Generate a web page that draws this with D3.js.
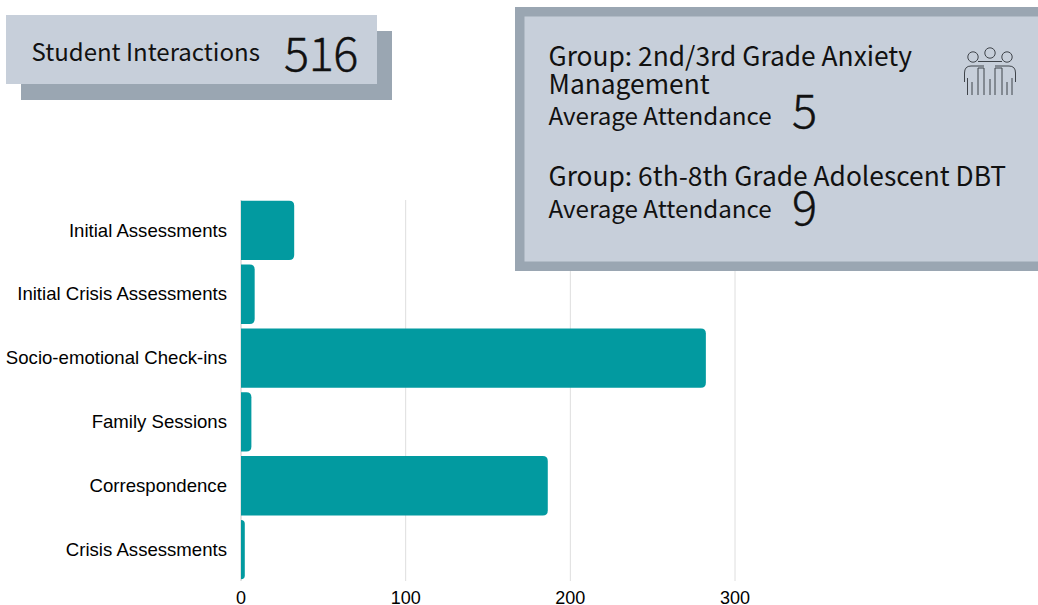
<!DOCTYPE html>
<html>
<head>
<meta charset="utf-8">
<script src="https://cdnjs.cloudflare.com/ajax/libs/d3/7.8.5/d3.min.js"></script>
<style>
  html, body { margin: 0; padding: 0; background: #fff; overflow: hidden; }
  .cat-label { font-family: "Liberation Sans", Arial, sans-serif; font-size: 18.6px; fill: #000; }
  .tick-label { font-family: "Liberation Sans", Arial, sans-serif; font-size: 18px; fill: #000; }
  .card-text { font-family: "Noto Sans CJK JP", sans-serif; fill: #111; }
  .big-num { font-family: "Noto Sans CJK JP", sans-serif; font-weight: 300; fill: #111; stroke: #111; stroke-width: 0.4px; letter-spacing: -0.5px; }
</style>
</head>
<body>
<div id="chart"></div>
<script>
const categories = ['Initial Assessments', 'Initial Crisis Assessments', 'Socio-emotional Check-ins', 'Family Sessions', 'Correspondence', 'Crisis Assessments'];
const counts = [32, 8, 282, 6, 186, 2];
const xTicks = [0, 100, 200, 300];
const groupNames = [['Group: 2nd/3rd Grade Anxiety', 'Management'], ['Group: 6th-8th Grade Adolescent DBT']];
const attendance = [5, 9];
const totalLabel = 'Student Interactions';
const total = 516;

const svg = d3.select("#chart")
  .append("svg")
    .attr("width", 1038)
    .attr("height", 605);

const x = d3.scaleLinear().domain([0, 300]).range([241, 735]);
const y = d3.scaleBand().domain(categories).range([198.5, 581.5]).paddingInner(0.07).paddingOuter(0.035);

// gridlines
svg.append("g")
  .selectAll("line")
  .data(xTicks)
  .join("line")
    .attr("x1", d => x(d))
    .attr("x2", d => x(d))
    .attr("y1", 200)
    .attr("y2", 581)
    .attr("stroke", d => d === 0 ? "#c8c8c8" : "#dedede")
    .attr("stroke-width", 1);

// bars, rounded on the right side only
function barPath(d) {
  const x0 = x(0), x1 = x(d) + 0.5, y0 = y.bandwidth();
  const top = y(categories[counts.indexOf(d)]);
  const r = Math.min(5, x1 - x0);
  return `M${x0},${top}H${x1 - r}Q${x1},${top} ${x1},${top + r}V${top + y0 - r}Q${x1},${top + y0} ${x1 - r},${top + y0}H${x0}Z`;
}
svg.append("g")
  .selectAll("path")
  .data(counts)
  .join("path")
    .attr("d", barPath)
    .attr("fill", "#029aa0");

// category labels
svg.append("g")
  .selectAll("text")
  .data(categories)
  .join("text")
    .attr("class", "cat-label")
    .attr("x", 227)
    .attr("y", d => y(d) + y.bandwidth() / 2 - 0.4)
    .attr("dy", "0.35em")
    .attr("text-anchor", "end")
    .text(d => d);

// x tick labels
svg.append("g")
  .selectAll("text")
  .data(xTicks)
  .join("text")
    .attr("class", "tick-label")
    .attr("x", d => x(d))
    .attr("y", 604)
    .attr("text-anchor", "middle")
    .text(d => d);

// total card
svg.append("rect").attr("x", 21).attr("y", 31).attr("width", 371).attr("height", 69).attr("fill", "#9aa6b2");
svg.append("rect").attr("x", 6).attr("y", 15).attr("width", 371).attr("height", 69).attr("fill", "#c7cfda");
svg.append("text").attr("class", "card-text").attr("x", 31.5).attr("y", 61).attr("font-size", 24).text(totalLabel);
svg.append("text").attr("class", "big-num").attr("x", 284).attr("y", 71).attr("font-size", 47).text(total);

// groups card, runs off the right edge
svg.append("rect").attr("x", 515).attr("y", 7).attr("width", 530).attr("height", 264).attr("fill", "#9aa6b2");
svg.append("rect").attr("x", 524.5).attr("y", 16.5).attr("width", 520).attr("height", 245).attr("fill", "#c7cfda");

const nameRows = [[66, 94], [186]];
const attendRows = [125, 218];
const numRows = [128, 225];
groupNames.forEach((lines, i) => {
  lines.forEach((line, j) => {
    svg.append("text").attr("class", "card-text")
      .attr("x", 548.5).attr("y", nameRows[i][j]).attr("font-size", 26.35).text(line);
  });
  svg.append("text").attr("class", "card-text")
    .attr("x", 548.5).attr("y", attendRows[i]).attr("font-size", 24.2).text("Average Attendance");
  svg.append("text").attr("class", "big-num")
    .attr("x", 792).attr("y", numRows[i]).attr("font-size", 47).text(attendance[i]);
});

// people icon
const icon = svg.append("g")
  .attr("transform", "translate(964,47)")
  .attr("fill", "none")
  .attr("stroke", "#3f444a")
  .attr("stroke-width", 1);
[[9, 10, 5.2], [26, 6, 5.2], [43, 10, 5.2]].forEach(c => {
  icon.append("circle").attr("cx", c[0]).attr("cy", c[1]).attr("r", c[2]);
});
[
  "M14,14.5H38",
  "M0.5,35V26Q0.5,19 7,19H20",
  "M51.5,35V26Q51.5,19 45,19H31",
  "M14,48V21H20V48",
  "M38,48V21H31V48",
  "M3.5,48V31M8,48V35M26,48V32M43,48V35M48,48V31"
].forEach(p => icon.append("path").attr("d", p));
</script>
</body>
</html>
